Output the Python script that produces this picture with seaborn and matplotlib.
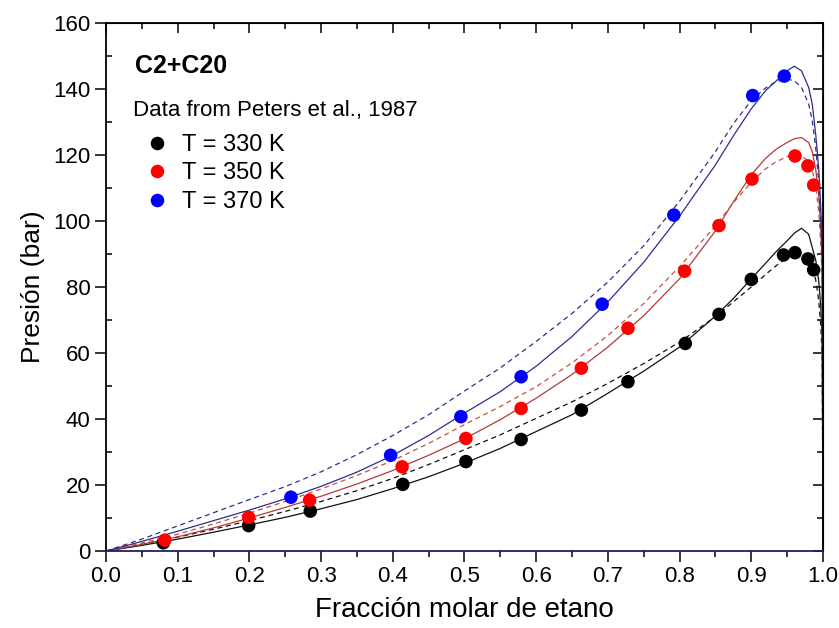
import numpy as np
import pandas as pd
import matplotlib
matplotlib.use('Agg')
import matplotlib.pyplot as plt
from matplotlib.ticker import MultipleLocator
import seaborn as sns

# ------------------------------------------------------------
# Datos experimentales (Peters et al., 1987)
# ------------------------------------------------------------
x_330 = [0.08, 0.199, 0.285, 0.414, 0.502, 0.579, 0.663, 0.728, 0.808, 0.855,
         0.900, 0.945, 0.961, 0.979, 0.987]
p_330 = [2.5, 7.7, 12.1, 20.2, 27.1, 33.8, 42.7, 51.3, 62.9, 71.7,
         82.3, 89.7, 90.4, 88.5, 85.2]

x_350 = [0.082, 0.199, 0.284, 0.413, 0.502, 0.579, 0.663, 0.728, 0.807, 0.855,
         0.901, 0.961, 0.979, 0.987]
p_350 = [3.3, 10.2, 15.4, 25.5, 34.1, 43.2, 55.4, 67.5, 84.8, 98.6,
         112.7, 119.7, 116.7, 110.9]

x_370 = [0.258, 0.397, 0.495, 0.579, 0.692, 0.792, 0.902, 0.946]
p_370 = [16.3, 29.0, 40.7, 52.8, 74.8, 101.8, 138.0, 143.9]

# Curvas del modelo: continua y discontinua por T
x_model = [0.0, 0.05, 0.10, 0.15, 0.20, 0.25, 0.30, 0.35, 0.40, 0.45, 0.50,
           0.55, 0.60, 0.65, 0.70, 0.75, 0.80, 0.85, 0.875, 0.90, 0.92, 0.935,
           0.95, 0.96, 0.97, 0.98, 0.985, 0.99, 0.994, 0.997, 0.999, 1.0]

p330_solid = [0, 1.7, 3.6, 5.7, 7.9, 10.2, 12.8, 15.6, 18.9, 22.5, 26.6,
              31.1, 36.2, 41.3, 47.8, 54.5, 61.8, 71.2, 76.5, 82.5, 87.2, 90.8,
              94.0, 96.3, 97.8, 96.0, 92.0, 88.0, 82.0, 74.0, 64.0, 0]
p330_dash = [0, 2.0, 4.2, 6.6, 9.2, 12.0, 15.0, 18.3, 22.0, 26.2, 30.7,
             35.2, 40.2, 45.2, 50.8, 56.8, 63.3, 71.0, 75.5, 80.0, 83.8, 86.5,
             89.0, 90.2, 90.5, 89.0, 86.5, 82.0, 76.0, 68.0, 58.0, 0]
p350_solid = [0, 2.0, 4.3, 7.0, 10.0, 13.2, 16.6, 20.3, 24.4, 29.0, 34.0,
              39.8, 46.3, 53.5, 61.8, 71.3, 82.5, 97.0, 105.8, 114.0, 119.0, 121.8,
              123.8, 124.9, 125.3, 123.8, 121.0, 115.5, 108.0, 98.0, 86.0, 0]
p350_dash = [0, 2.4, 5.1, 8.2, 11.5, 15.0, 18.8, 22.9, 27.4, 32.6, 38.3,
             43.8, 49.8, 57.0, 65.3, 75.0, 86.2, 98.5, 105.5, 111.8, 115.8, 118.0,
             119.5, 120.0, 119.8, 118.0, 115.5, 110.5, 103.0, 93.0, 82.0, 0]
p370_solid = [0, 2.9, 6.0, 9.2, 12.4, 15.8, 19.6, 23.9, 29.0, 35.0, 41.8,
              48.3, 56.0, 65.0, 75.5, 87.5, 101.5, 117.0, 125.8, 134.0, 139.5, 142.5,
              145.5, 146.9, 145.5, 140.5, 135.5, 126.0, 116.0, 104.0, 90.0, 0]
p370_dash = [0, 3.6, 7.6, 11.6, 15.6, 19.5, 24.0, 29.2, 35.0, 41.3, 48.5,
             55.5, 63.5, 72.0, 81.5, 92.5, 106.0, 121.0, 129.5, 136.5, 140.3, 142.3,
             143.0, 142.5, 140.5, 135.5, 130.5, 122.0, 112.0, 100.0, 86.0, 0]

labels = ['T = 330 K', 'T = 350 K', 'T = 370 K']
colores_pts = {'T = 330 K': '#000000', 'T = 350 K': '#ff0000', 'T = 370 K': '#0000ff'}

sns.set_style('ticks', rc={'text.color': 'black', 'axes.labelcolor': 'black',
                           'xtick.color': 'black', 'ytick.color': 'black',
                           'axes.edgecolor': 'black'})
plt.rcParams['font.family'] = ['Liberation Sans', 'DejaVu Sans']

df = pd.DataFrame({
    'x': x_330 + x_350 + x_370,
    'P': p_330 + p_350 + p_370,
    'T': [labels[0]] * len(x_330) + [labels[1]] * len(x_350) + [labels[2]] * len(x_370),
})

fig = plt.figure(figsize=(8.39, 6.28), dpi=100)
ax = fig.add_axes([0.1263, 0.1226, 0.8546, 0.8408])

guion = (0, (4, 3))
curvas = [
    (p330_solid, '#111111', '-'),
    (p330_dash, '#111111', guion),
    (p350_solid, '#b33a3a', '-'),
    (p350_dash, '#c9503a', guion),
    (p370_solid, '#2e2e8c', '-'),
    (p370_dash, '#2e2e8c', guion),
]
for p, c, ls in curvas:
    sns.lineplot(x=x_model, y=p, color=c, linestyle=ls, linewidth=0.9,
                 ax=ax, zorder=2, legend=False)

sns.scatterplot(data=df, x='x', y='P', hue='T', palette=colores_pts,
                hue_order=labels, s=95, edgecolor='none', linewidth=0,
                ax=ax, zorder=3)

ax.set_xlim(0, 1)
ax.set_ylim(0, 160)
ax.xaxis.set_major_locator(MultipleLocator(0.1))
ax.xaxis.set_minor_locator(MultipleLocator(0.05))
ax.yaxis.set_major_locator(MultipleLocator(20))
ax.yaxis.set_minor_locator(MultipleLocator(10))
ax.set_xticklabels([f'{v:.1f}' for v in ax.get_xticks()])

ax.tick_params(axis='both', which='major', direction='out', length=8,
               width=1.1, labelsize=16, pad=3)
ax.tick_params(axis='x', which='minor', direction='out', length=4, width=1.1)
ax.tick_params(axis='y', which='minor', direction='in', length=4, width=1.1)

# ejes espejo arriba y derecha con ticks hacia dentro
top = ax.secondary_xaxis('top')
top.xaxis.set_major_locator(MultipleLocator(0.1))
top.xaxis.set_minor_locator(MultipleLocator(0.05))
top.tick_params(which='major', direction='in', length=7, width=1.1, labeltop=False)
top.tick_params(which='minor', direction='in', length=4, width=1.1)
right = ax.secondary_yaxis('right')
right.yaxis.set_major_locator(MultipleLocator(20))
right.yaxis.set_minor_locator(MultipleLocator(10))
right.tick_params(which='major', direction='in', length=7, width=1.1, labelright=False)
right.tick_params(which='minor', direction='in', length=4, width=1.1)

for s in ax.spines.values():
    s.set_linewidth(1.3)
ax.spines['bottom'].set_color('#1f1f66')

ax.set_xlabel('Fracción molar de etano', fontsize=20, labelpad=7)
ax.set_ylabel('Presión (bar)', fontsize=19, labelpad=6)

ax.text(0.040, 147.0, 'C2+C20', fontsize=18, fontweight='bold', va='center', ha='left')
ax.text(0.038, 133.4, 'Data from Peters et al., 1987', fontsize=16, va='center', ha='left')

sns.move_legend(ax, 'upper left', bbox_to_anchor=(0.051, 0.79), frameon=False,
                title=None, fontsize=17, handlelength=1.2, handletextpad=0.46,
                borderpad=0, borderaxespad=0, labelspacing=0.28)

plt.savefig('out.png', dpi=100)
